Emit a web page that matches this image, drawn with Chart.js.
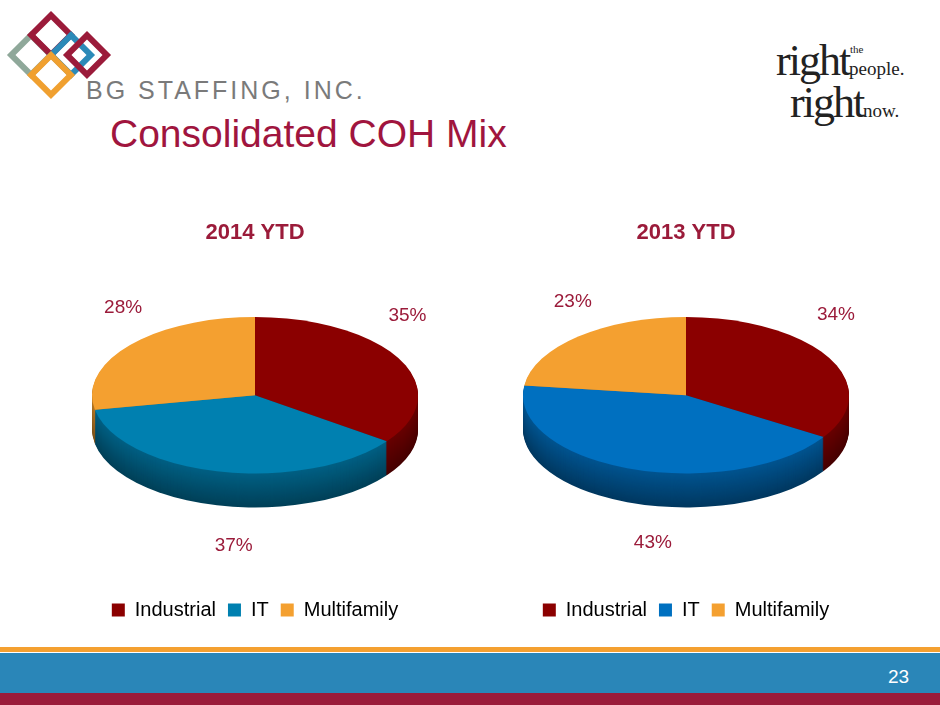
<!DOCTYPE html>
<html><head><meta charset="utf-8">
<script src="https://cdn.jsdelivr.net/npm/chart.js@4.4.1/dist/chart.umd.min.js"></script>
<style>
body{margin:0;width:940px;height:705px;position:relative;background:#fff;font-family:"Liberation Sans",Arial,sans-serif;overflow:hidden}
.abs{position:absolute}
.sq{position:absolute;width:22px;height:22px;border:6px solid;transform:rotate(45deg)}
</style></head><body>
<!-- header logo -->
<div class="sq" style="left:14px;top:38px;border-color:#8fa89a"></div>
<div class="sq" style="left:34px;top:18px;border-color:#9b1b3a"></div>
<div class="sq" style="left:54px;top:38px;border-color:#2c8ab8"></div>
<div class="sq" style="left:34px;top:58px;border-color:#f0a030"></div>
<div class="sq" style="left:70px;top:38px;border-color:#9b1b3a"></div>
<div class="abs" style="left:86px;top:76px;font-size:25px;letter-spacing:3px;color:#7a7a7a">BG STAFFING, INC.</div>
<div class="abs" style="left:776px;top:44px;font-family:'Liberation Serif',serif;color:#222;line-height:34px">
  <span style="font-size:11px;position:absolute;left:74px;top:-12px">the</span>
  <div style="font-size:44px;letter-spacing:-2px">right<span style="font-size:19px;letter-spacing:0">people.</span></div>
  <div style="font-size:44px;letter-spacing:-2px;margin-left:14px">right<span style="font-size:19px;letter-spacing:0">now.</span></div>
</div>
<div class="abs" style="left:110px;top:112px;font-size:39px;color:#a0153e">Consolidated COH Mix</div>
<div class="abs" style="left:45px;top:210px;width:420px;height:420px"><canvas id="c2014"></canvas></div>
<div class="abs" style="left:476px;top:210px;width:420px;height:420px"><canvas id="c2013"></canvas></div>
<!-- footer -->
<div class="abs" style="left:0;top:647px;width:940px;height:5px;background:#f4a030"></div>
<div class="abs" style="left:0;top:653px;width:940px;height:40px;background:#2a86b8"></div>
<div class="abs" style="left:0;top:693px;width:940px;height:12px;background:#9b1b3a"></div>
<div class="abs" style="left:888px;top:666px;font-size:19px;color:#fff">23</div>
<script>
const categories = ["Industrial", "IT", "Multifamily"];
const values2014 = [35, 37, 28];
const values2013 = [34, 43, 23];
const colors2014 = ["#8b0000", "#0080b0", "#f4a030"];
const colors2013 = ["#8b0000", "#0070c0", "#f4a030"];

function shade(hex, f) {
  const n = parseInt(hex.slice(1), 16);
  const r = Math.round(((n >> 16) & 255) * f), g = Math.round(((n >> 8) & 255) * f), b = Math.round((n & 255) * f);
  return `rgb(${r},${g},${b})`;
}

// draws the pie as a tilted 3D ellipse using the library's arc angles
const pie3d = {
  id: "pie3d",
  afterDatasetsDraw(chart, args, opts) {
    const ctx = chart.ctx;
    const arcs = chart.getDatasetMeta(0).data;
    const cols = opts.colors;
    const cx = arcs[0].x, cy = arcs[0].y + opts.dy;
    const rx = arcs[0].outerRadius, ry = rx * 0.48, depth = 34;
    ctx.save();
    for (let k = depth; k >= 1; k--) {
      arcs.forEach((a, i) => {
        ctx.beginPath();
        ctx.moveTo(cx, cy + k);
        ctx.ellipse(cx, cy + k, rx, ry, 0, a.startAngle, a.endAngle);
        ctx.closePath();
        ctx.fillStyle = shade(cols[i], 0.5 + 0.25 * (1 - k / depth));
        ctx.fill();
      });
    }
    arcs.forEach((a, i) => {
      ctx.beginPath();
      ctx.moveTo(cx, cy);
      ctx.ellipse(cx, cy, rx, ry, 0, a.startAngle, a.endAngle);
      ctx.closePath();
      ctx.fillStyle = cols[i];
      ctx.fill();
    });
    // percentage labels
    ctx.font = "19px 'Liberation Sans', Arial";
    ctx.fillStyle = "#9b1b3a";
    ctx.textAlign = "center";
    ctx.textBaseline = "middle";
    const vals = chart.data.datasets[0].data;
    arcs.forEach((a, i) => {
      const m = (a.startAngle + a.endAngle) / 2;
      const s = Math.sin(m), c = Math.cos(m);
      let x, y;
      if (s > 0) { x = cx + rx * 0.6 * c; y = cy + ry * s + depth + 40; }
      else { x = cx + rx * 1.05 * c; y = cy + ry * 0.6 * s - 58; }
      ctx.fillText(vals[i] + "%", x, y);
    });
    ctx.restore();
  }
};

function makePie(id, title, values, colors) {
  new Chart(document.getElementById(id), {
    type: "pie",
    data: {
      labels: categories,
      datasets: [{ data: values, backgroundColor: "rgba(0,0,0,0)", borderWidth: 0, radius: 163 }]
    },
    options: {
      responsive: true,
      maintainAspectRatio: false,
      animation: false,
      events: [],
      plugins: {
        title: { display: true, text: title, color: "#9b1b3a", font: { size: 22, weight: "bold", family: "Liberation Sans" }, padding: { top: 10, bottom: 0 } },
        legend: {
          position: "bottom",
          labels: {
            color: "#555", font: { size: 20, family: "Liberation Sans" }, boxWidth: 13, boxHeight: 13, padding: 12,
            generateLabels: (chart) => categories.map((c, i) => ({ text: c, fillStyle: colors[i], strokeStyle: colors[i], lineWidth: 0, index: i }))
          }
        },
        tooltip: { enabled: false },
        pie3d: { colors: colors, dy: -22 }
      }
    },
    plugins: [pie3d]
  });
}

makePie("c2014", "2014 YTD", values2014, colors2014);
makePie("c2013", "2013 YTD", values2013, colors2013);
</script>
</body></html>
